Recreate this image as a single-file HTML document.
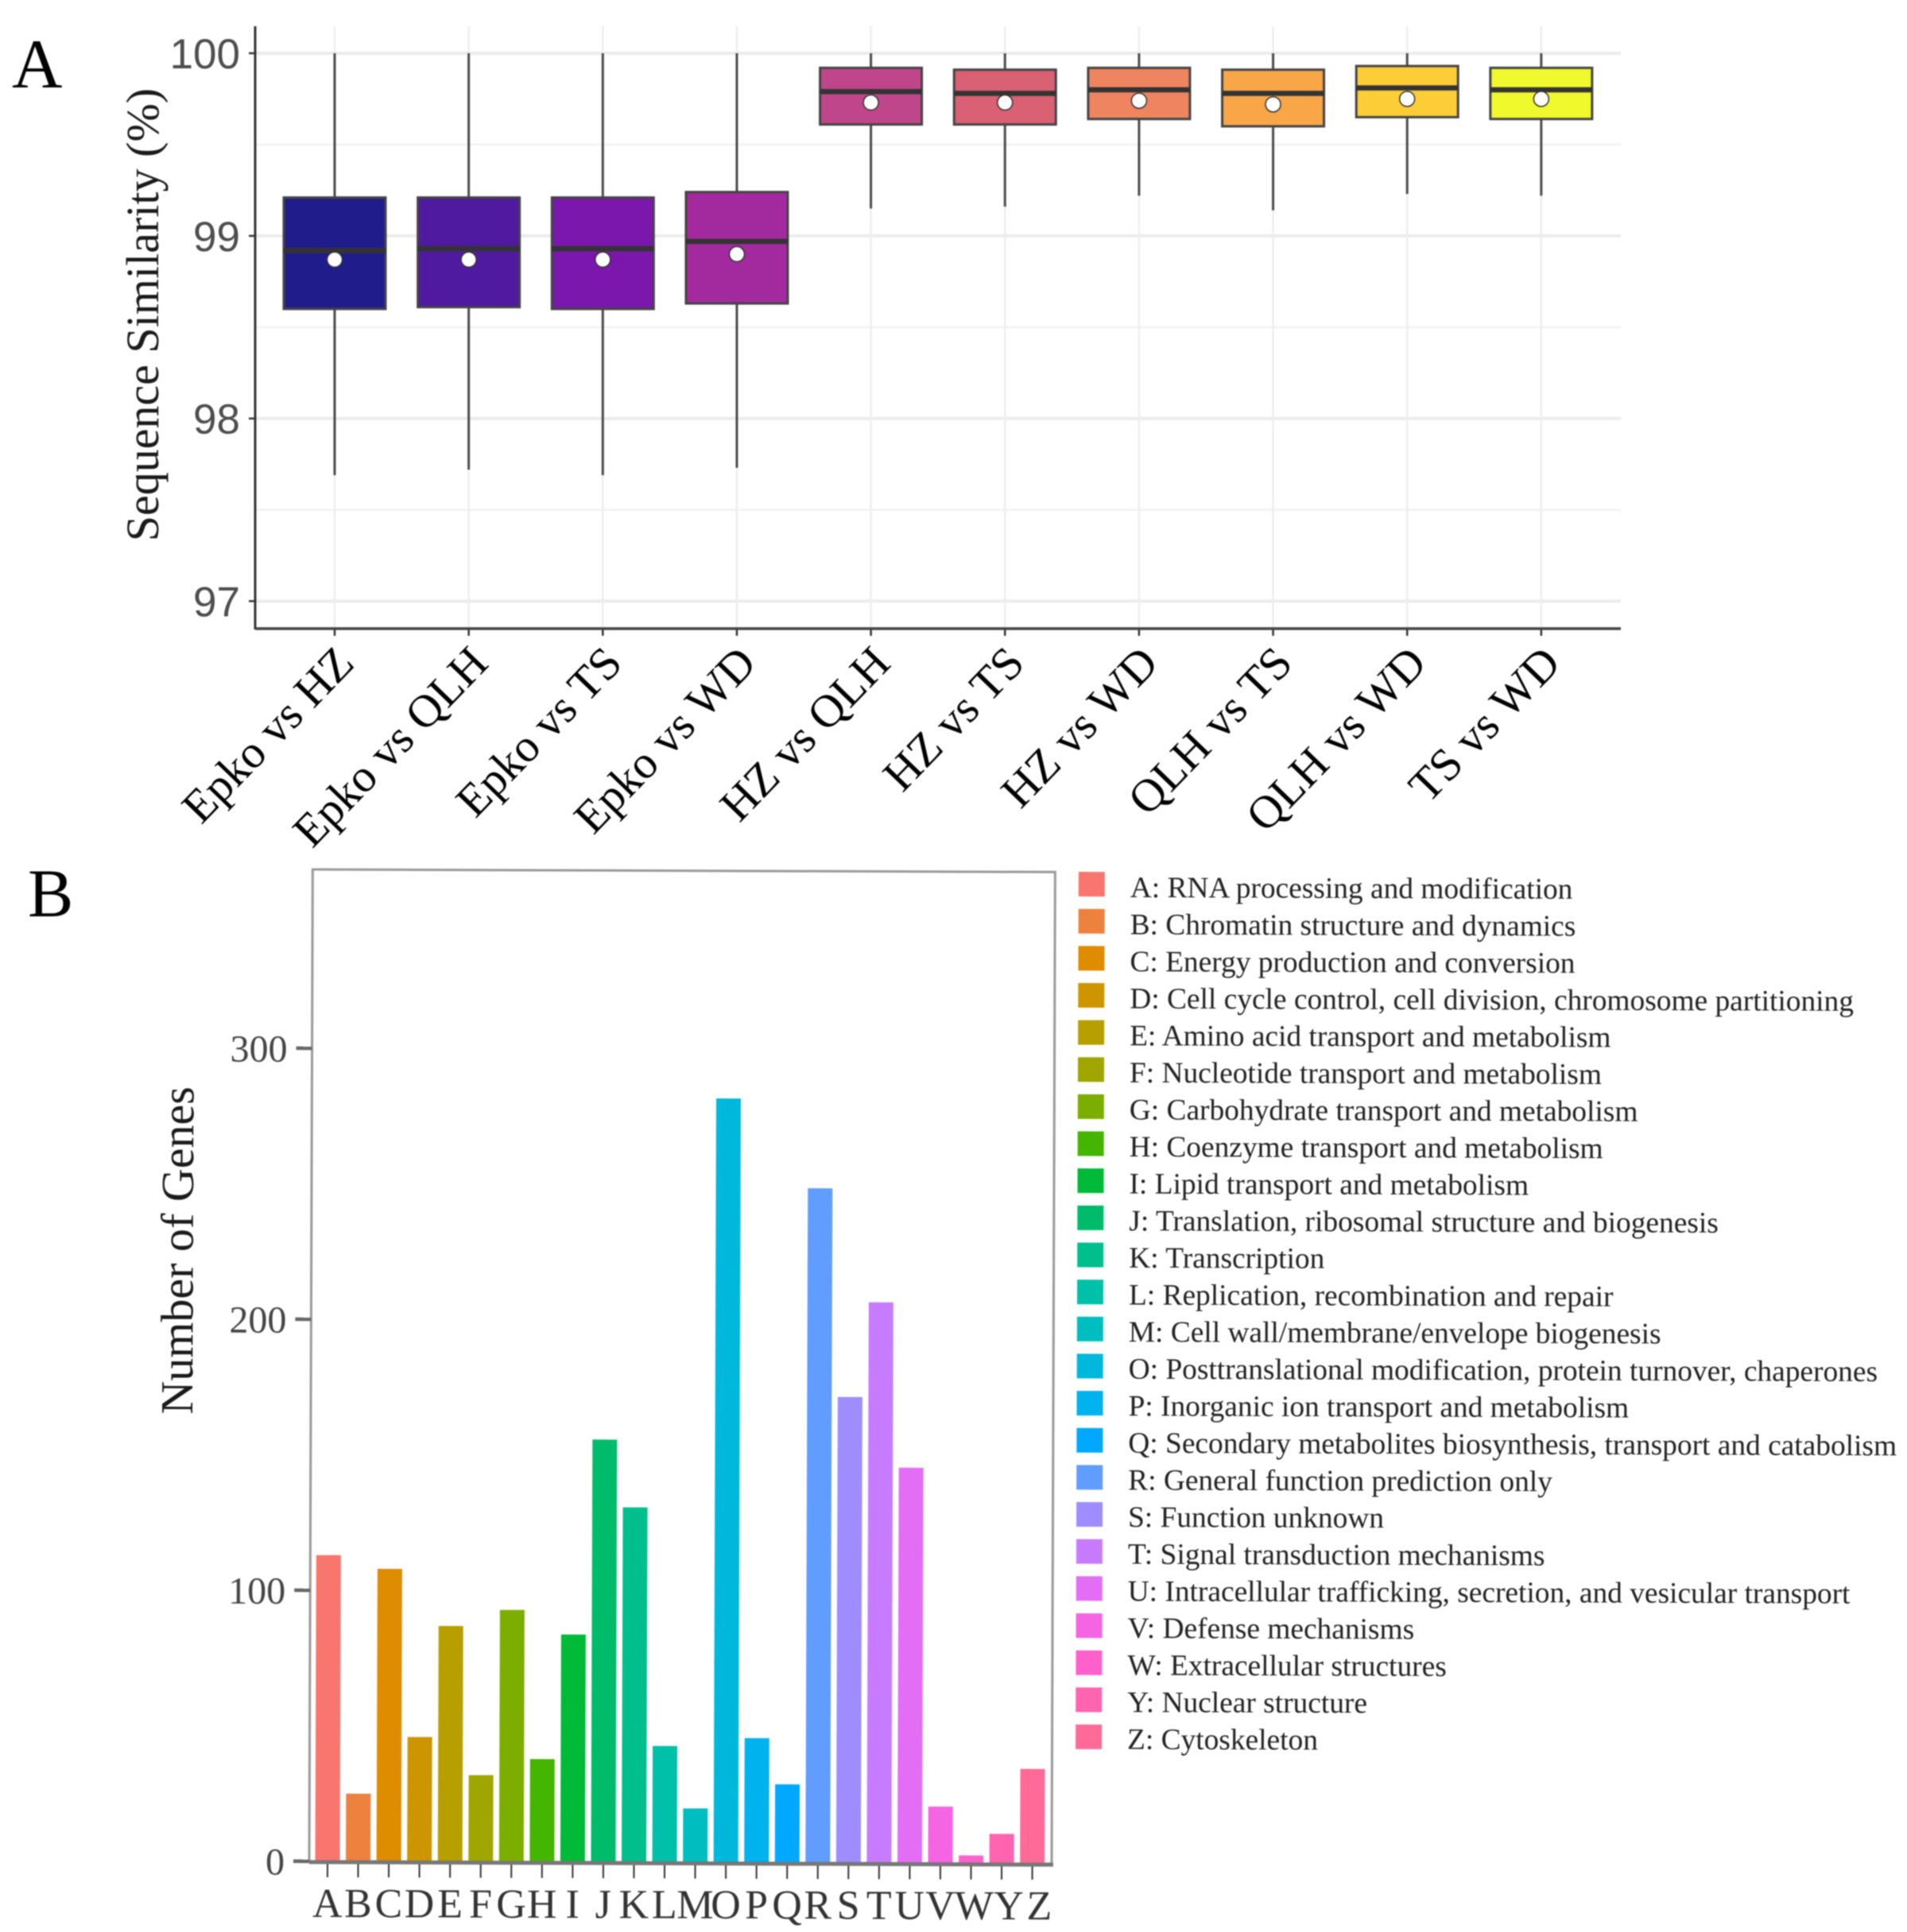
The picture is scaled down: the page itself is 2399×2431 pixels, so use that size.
<!DOCTYPE html>
<html lang="en">
<head>
<meta charset="utf-8">
<title>Sequence similarity and gene function chart</title>
<style>
html,body{margin:0;padding:0;background:#fff;}
svg{display:block;filter:blur(0.7px);}
text{font-family:"Liberation Serif",serif;}
.sans{font-family:"Liberation Sans",sans-serif;}
</style>
</head>
<body>
<svg id="figure" xmlns="http://www.w3.org/2000/svg" width="2399" height="2431" viewBox="0 0 2399 2431">
  <rect x="0" y="0" width="2399" height="2431" fill="#fff"/>
  <g id="panelA"></g>
  <g id="panelB" transform="rotate(0.2 390 2342)"></g>
  <text x="15" y="110" font-size="88" fill="#000">A</text>
  <text x="35" y="1153" font-size="86" fill="#000">B</text>
</svg>
<script>
// ---------- Panel A data ----------
const pairCategories = ["Epko vs HZ","Epko vs QLH","Epko vs TS","Epko vs WD","HZ vs QLH","HZ vs TS","HZ vs WD","QLH vs TS","QLH vs WD","TS vs WD"];
const whiskerHigh = [100,100,100,100,100,100,100,100,100,100];
const q3Values = [99.21,99.21,99.21,99.24,99.92,99.91,99.92,99.91,99.93,99.92];
const medianValues = [98.92,98.93,98.93,98.97,99.79,99.78,99.80,99.78,99.81,99.80];
const meanValues = [98.87,98.87,98.87,98.90,99.73,99.73,99.74,99.72,99.75,99.75];
const q1Values = [98.60,98.61,98.60,98.63,99.61,99.61,99.64,99.60,99.65,99.64];
const whiskerLow = [97.69,97.72,97.69,97.73,99.15,99.16,99.22,99.14,99.23,99.22];
const similarityTicks = [97,98,99,100];
const similarityMinorTicks = [97.5,98.5,99.5];
const boxFills = ["#211C8C","#501AA0","#7B17AD","#A22A9E","#C0468C","#DA6074","#EE8460","#F8A648","#FDCD37","#F0F82E"];

// ---------- Panel B data ----------
const cogLetters = ["A","B","C","D","E","F","G","H","I","J","K","L","M","O","P","Q","R","S","T","U","V","W","Y","Z"];
const geneCounts = [113,25,108,46,87,32,93,38,84,156,131,43,20,282,46,29,249,172,207,146,21,3,11,35];
const countTicks = [0,100,200,300];
const cogDescriptions = [
  "A: RNA processing and modification",
  "B: Chromatin structure and dynamics",
  "C: Energy production and conversion",
  "D: Cell cycle control, cell division, chromosome partitioning",
  "E: Amino acid transport and metabolism",
  "F: Nucleotide transport and metabolism",
  "G: Carbohydrate transport and metabolism",
  "H: Coenzyme transport and metabolism",
  "I: Lipid transport and metabolism",
  "J: Translation, ribosomal structure and biogenesis",
  "K: Transcription",
  "L: Replication, recombination and repair",
  "M: Cell wall/membrane/envelope biogenesis",
  "O: Posttranslational modification, protein turnover, chaperones",
  "P: Inorganic ion transport and metabolism",
  "Q: Secondary metabolites biosynthesis, transport and catabolism",
  "R: General function prediction only",
  "S: Function unknown",
  "T: Signal transduction mechanisms",
  "U: Intracellular trafficking, secretion, and vesicular transport",
  "V: Defense mechanisms",
  "W: Extracellular structures",
  "Y: Nuclear structure",
  "Z: Cytoskeleton"
];
const barFills = ["#F8766D","#ED813E","#DE8C00","#CD9600","#B79F00","#9FA600","#7CAE00","#44B500","#00BA38","#00BC6A","#00BF8C","#00C0A9","#00BEBF","#00B8DB","#00B2EE","#00A9FF","#619CFF","#9F8CFF","#C77CFF","#E36EF5","#F564E3","#FF61CC","#FF64B0","#FF6A98"];

const NS = "http://www.w3.org/2000/svg";
function make(parent, tag, attrs, txt) {
  const el = document.createElementNS(NS, tag);
  for (const k in attrs) el.setAttribute(k, attrs[k]);
  if (txt !== undefined) el.textContent = txt;
  parent.appendChild(el);
  return el;
}

// ---------- Panel A axes ----------
const panelA = document.getElementById("panelA");
const aLeft = 321, aRight = 2039, aTop = 33, aBottom = 791;
function simY(v) { return 67 + (100 - v) * 229.8; }
function pairX(i) { return 421 + i * 168.65; }
const aBoxWidth = 128;

similarityMinorTicks.forEach(function (t) {
  const el = make(panelA, "line", {x1: aLeft, x2: aRight, y1: simY(t), y2: simY(t), stroke: "#f2f2f2", "stroke-width": 2.5});
  
  
});
similarityTicks.forEach(function (t) {
  const el = make(panelA, "line", {x1: aLeft, x2: aRight, y1: simY(t), y2: simY(t), stroke: "#ececec", "stroke-width": 4});
  
  
});
pairCategories.forEach(function (c, i) {
  const el = make(panelA, "line", {x1: pairX(i), x2: pairX(i), y1: aTop, y2: aBottom, stroke: "#eeeeee", "stroke-width": 2.5});
  
  
});

pairCategories.forEach(function (c, i) {
  const x = pairX(i);
  const w = make(panelA, "line", {x1: x, x2: x, y1: simY(whiskerHigh[i]), y2: simY(whiskerLow[i]), stroke: "#4a4a4a", "stroke-width": 3});
  
  
  const b = make(panelA, "rect", {x: x - aBoxWidth / 2, y: simY(q3Values[i]), width: aBoxWidth, height: simY(q1Values[i]) - simY(q3Values[i]), fill: boxFills[i], stroke: "#444", "stroke-width": 3});
  
  
  const m = make(panelA, "line", {x1: x - aBoxWidth / 2, x2: x + aBoxWidth / 2, y1: simY(medianValues[i]), y2: simY(medianValues[i]), stroke: "#333", "stroke-width": 6.5});
  
  
  const p = make(panelA, "circle", {cx: x, cy: simY(meanValues[i]), r: 9.5, fill: "#fff", stroke: "#333", "stroke-width": 1.5});
  
  
  const t = make(panelA, "line", {x1: x, x2: x, y1: aBottom, y2: aBottom + 9, stroke: "#333", "stroke-width": 2.5});
  
  
  const l = make(panelA, "text", {x: 0, y: 0, "font-size": 58, fill: "#000", "text-anchor": "end", transform: "translate(" + (x + 27) + " 837) rotate(-46)"}, c);
  
  
});

similarityTicks.forEach(function (t) {
  const k = make(panelA, "line", {x1: aLeft - 8, x2: aLeft, y1: simY(t), y2: simY(t), stroke: "#333", "stroke-width": 2.5});
  
  
  const l = make(panelA, "text", {x: 302, y: simY(t) + 19, "font-size": 53, fill: "#4d4d4d", "text-anchor": "end", "class": "sans"}, String(t));
  
  
});

const aYAxis = make(panelA, "line", {x1: aLeft, x2: aLeft, y1: aTop, y2: aBottom + 1, stroke: "#333", "stroke-width": 3});


const aXAxis = make(panelA, "line", {x1: aLeft, x2: aRight, y1: aBottom, y2: aBottom, stroke: "#444", "stroke-width": 3.5});


const aTitle = make(panelA, "text", {x: 0, y: 0, "font-size": 58, fill: "#1a1a1a", "text-anchor": "middle", transform: "translate(199 396) rotate(-90)"}, "Sequence Similarity (%)");



// ---------- Panel B axes ----------
const panelB = document.getElementById("panelB");
const bLeft = 389, bRight = 1323, bTop = 1094, bBottom = 2342;
function countY(v) { return bBottom - v * 3.41; }
function letterX(i) { return 412 + i * 38.55; }
function labelNudge(letter) { return letter === "W" ? 4 : (letter === "Y" || letter === "Z") ? 9 : 0; }
const bBarWidth = 31;

const frame = make(panelB, "rect", {x: bLeft, y: bTop, width: bRight - bLeft, height: bBottom - bTop, fill: "#fff", stroke: "#999", "stroke-width": 3});



cogLetters.forEach(function (c, i) {
  const x = letterX(i);
  const b = make(panelB, "rect", {x: x - bBarWidth / 2, y: countY(geneCounts[i]), width: bBarWidth, height: bBottom - countY(geneCounts[i]), fill: barFills[i]});
  
  
  const t = make(panelB, "line", {x1: x, x2: x, y1: bBottom, y2: bBottom + 20, stroke: "#333", "stroke-width": 2});
  
  
  const l = make(panelB, "text", {x: x + labelNudge(c), y: 2412, "font-size": 52, fill: "#333", "text-anchor": "middle"}, c);
  
  
});

const bXAxis = make(panelB, "line", {x1: bLeft, x2: bRight + 2, y1: bBottom + 1, y2: bBottom + 1, stroke: "#777", "stroke-width": 5});



countTicks.forEach(function (t) {
  const k = make(panelB, "line", {x1: bLeft - 20, x2: bLeft, y1: countY(t), y2: countY(t), stroke: "#666", "stroke-width": 4.5});
  
  
  const l = make(panelB, "text", {x: 358, y: countY(t) + 17, "font-size": 48, fill: "#444", "text-anchor": "end"}, String(t));
  
  
});

const bTitle = make(panelB, "text", {x: 0, y: 0, "font-size": 58, fill: "#1a1a1a", "text-anchor": "middle", transform: "translate(240 1574) rotate(-90)"}, "Number of Genes");



// ---------- Panel B legend ----------
cogDescriptions.forEach(function (d, i) {
  const y = 1093.6 + i * 46.65;
  const s = make(panelB, "rect", {x: 1352.5, y: y, width: 33, height: 31, fill: barFills[i]});
  
  
  const l = make(panelB, "text", {x: 1417.5, y: 1125.3 + i * 46.6, "font-size": 37.4, fill: "#222"}, d);
  
  
});
</script>
</body>
</html>
